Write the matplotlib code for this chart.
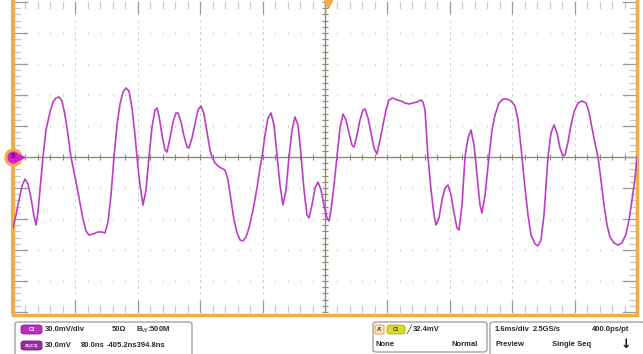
import matplotlib.pyplot as plt
from matplotlib.patches import FancyBboxPatch
import numpy as np

plt.rcParams['font.family'] = ['Liberation Sans', 'DejaVu Sans']

# captured trace, C3 (time in ms, amplitude in mV)
t_ms = [-8.000, -7.923, -7.846, -7.769, -7.692, -7.615, -7.538, -7.462, -7.410, -7.359,
        -7.308, -7.231, -7.154, -7.051, -6.974, -6.897, -6.821, -6.744, -6.667, -6.590,
        -6.513, -6.436, -6.359, -6.282, -6.205, -6.128, -6.051, -5.949, -5.821, -5.718,
        -5.641, -5.564, -5.487, -5.410, -5.333, -5.256, -5.179, -5.103, -5.026, -4.949,
        -4.872, -4.821, -4.744, -4.667, -4.590, -4.513, -4.436, -4.359, -4.308, -4.256,
        -4.179, -4.103, -4.051, -3.974, -3.897, -3.821, -3.769, -3.692, -3.615, -3.538,
        -3.487, -3.410, -3.333, -3.256, -3.179, -3.103, -3.026, -2.949, -2.897, -2.821,
        -2.744, -2.667, -2.564, -2.487, -2.410, -2.333, -2.256, -2.179, -2.103, -2.026,
        -1.949, -1.846, -1.744, -1.667, -1.615, -1.538, -1.462, -1.385, -1.308, -1.231,
        -1.154, -1.077, -1.000, -0.923, -0.846, -0.769, -0.692, -0.615, -0.538, -0.462,
        -0.410, -0.333, -0.256, -0.179, -0.103, -0.026, 0.051, 0.103, 0.154, 0.231,
        0.308, 0.385, 0.462, 0.538, 0.615, 0.692, 0.744, 0.821, 0.897, 0.974,
        1.026, 1.103, 1.179, 1.256, 1.333, 1.410, 1.487, 1.564, 1.641, 1.744,
        1.846, 1.949, 2.051, 2.154, 2.256, 2.359, 2.462, 2.513, 2.564, 2.590,
        2.641, 2.718, 2.795, 2.846, 2.923, 3.000, 3.077, 3.154, 3.231, 3.308,
        3.385, 3.436, 3.513, 3.590, 3.667, 3.744, 3.821, 3.897, 3.974, 4.026,
        4.103, 4.205, 4.282, 4.359, 4.462, 4.564, 4.667, 4.769, 4.872, 4.949,
        5.000, 5.051, 5.128, 5.205, 5.282, 5.385, 5.462, 5.538, 5.615, 5.667,
        5.718, 5.795, 5.872, 5.949, 6.026, 6.103, 6.154, 6.231, 6.308, 6.385,
        6.487, 6.590, 6.692, 6.769, 6.846, 6.923, 7.000, 7.077, 7.154, 7.231,
        7.308, 7.410, 7.513, 7.615, 7.718, 7.795, 7.872, 7.949, 8.000]
v_mv = [-68.7, -56.1, -41.6, -28.1, -21.3, -26.1, -39.7, -57.1, -65.8, -53.2,
        -31.9, 0.0, 26.1, 43.5, 53.2, 57.1, 58.1, 54.2, 40.6, 21.3,
        0.0, -14.5, -29.0, -44.5, -60.0, -71.6, -75.5, -74.5, -72.6, -72.6,
        -73.5, -62.9, -36.8, 0.0, 31.0, 51.3, 62.9, 66.8, 63.9, 47.4,
        21.3, 0.0, -27.1, -46.5, -31.9, 0.0, 29.0, 45.5, 47.4, 39.7,
        21.3, 6.8, 4.8, 18.4, 33.9, 42.6, 42.6, 33.9, 20.3, 9.7,
        8.7, 18.4, 31.9, 45.5, 49.4, 41.6, 24.2, 6.8, 0.0, -5.8,
        -8.7, -10.6, -12.6, -22.3, -41.6, -61.0, -73.5, -80.3, -81.3, -77.4,
        -68.7, -51.3, -30.0, -10.6, 0.0, 21.3, 37.7, 42.6, 31.0, 1.9,
        -27.1, -46.5, -31.9, 0.0, 26.1, 38.7, 31.0, 1.9, -31.9, -56.1,
        -59.0, -46.5, -30.0, -24.2, -31.9, -46.5, -59.0, -61.9, -51.3, -27.1,
        0.0, 28.1, 41.6, 35.8, 23.2, 11.6, 9.7, 21.3, 35.8, 45.5,
        46.5, 37.7, 23.2, 8.7, 2.9, 16.5, 31.0, 45.5, 55.2, 57.1,
        55.2, 54.2, 52.3, 51.3, 52.3, 53.2, 55.2, 53.2, 45.5, 31.0,
        0.0, -31.9, -56.1, -65.8, -59.0, -41.6, -30.0, -27.1, -36.8, -54.2,
        -68.7, -70.6, -46.5, 0.0, 18.4, 26.1, 11.6, -17.4, -46.5, -54.2,
        -36.8, 0.0, 26.1, 40.6, 52.3, 56.1, 56.1, 54.2, 49.4, 35.8,
        18.4, 0.0, -30.0, -56.1, -75.5, -84.2, -86.1, -80.3, -56.1, -27.1,
        0.0, 23.2, 31.0, 23.2, 8.7, 1.0, 1.9, 14.5, 31.0, 43.5,
        52.3, 54.2, 52.3, 43.5, 28.1, 13.5, 0.0, -22.3, -46.5, -65.8,
        -77.4, -83.2, -85.2, -83.2, -74.5, -61.0, -41.6, -20.3, 0.0]

ms_per_div = 1.6
mv_per_div = 30.0
trig_ms = 0.08

W, H = 643, 354
fig = plt.figure(figsize=(W / 100, H / 100), dpi=100)
fig.patch.set_facecolor('white')

# screen area in pixels: x 13..637, y 2..312
ax = fig.add_axes([13 / W, (H - 312) / H, 624 / W, 310 / H])
ax.set_xlim(-5 * ms_per_div, 5 * ms_per_div)
ax.set_ylim(-5 * mv_per_div, 5 * mv_per_div)
ax.axis('off')

orange = '#f2ac48'
grid_c = '#c9c9c9'
axis_c = '#8f8a72'

xmaj = np.arange(-5, 6) * ms_per_div
ymaj = np.arange(-5, 6) * mv_per_div
xmin = np.arange(-25, 26) * ms_per_div / 5
ymin = np.arange(-25, 26) * mv_per_div / 5

# dotted graticule
for x in xmaj[1:-1]:
    if x == 0:
        continue
    ax.plot(np.full_like(ymin, x), ymin, ls='none', marker='|', ms=1.4,
            mew=0.7, color=grid_c)
for y in ymaj[1:-1]:
    if y == 0:
        continue
    ax.plot(xmin, np.full_like(xmin, y), ls='none', marker='|', ms=1.6,
            mew=0.7, color=grid_c)

# centre cross with minor ticks
ax.axhline(0, color=axis_c, lw=1.0)
ax.axvline(0, color=axis_c, lw=1.0)
ax.plot(xmin, np.zeros_like(xmin), ls='none', marker='|', ms=4.5, mew=0.8,
        color=axis_c)
ax.plot(np.zeros_like(ymin), ymin, ls='none', marker='_', ms=4.5, mew=0.8,
        color=axis_c)

# ticks along the screen edges
ytop = 5 * mv_per_div
xl, xr = -5 * ms_per_div, 5 * ms_per_div
for x in xmin:
    major = abs(x / ms_per_div - round(x / ms_per_div)) < 1e-6
    ln = 0.35 if major else 0.2
    c = '#9a9a9a' if major else grid_c
    ax.plot([x, x], [ytop, ytop - ln * mv_per_div], color=c, lw=0.9, clip_on=False)
    ax.plot([x, x], [-ytop, -ytop + ln * mv_per_div], color=c, lw=0.9, clip_on=False)
for y in ymin:
    major = abs(y / mv_per_div - round(y / mv_per_div)) < 1e-6
    ln = 0.22 if major else 0.12
    c = '#9a9a9a' if major else grid_c
    ax.plot([xl, xl + ln * ms_per_div], [y, y], color=c, lw=0.9, clip_on=False)
    ax.plot([xr, xr - ln * ms_per_div], [y, y], color=c, lw=0.9, clip_on=False)

# orange screen frame (left, right, bottom)
ax.plot([xl, xl], [-ytop - 2, ytop + 6], color=orange, lw=3, clip_on=False,
        solid_capstyle='butt')
ax.plot([xr, xr], [-ytop - 2, ytop + 6], color=orange, lw=2.5, clip_on=False,
        solid_capstyle='butt')
ax.plot([xl, xr], [-ytop - 3, -ytop - 3], color=orange, lw=2.5, clip_on=False)

# waveform
ax.plot(t_ms, v_mv, color='#bd3ec4', lw=1.2, solid_joinstyle='round', zorder=5)

# channel ground marker and trigger position
ax.plot([xl], [0], marker='o', ms=11, mfc='#d21fd2', mec=orange, mew=2.2,
        clip_on=False, zorder=6)
ax.text(xl, 0, '3', ha='center', va='center', fontsize=5.5, color='#3a003a',
        fontweight='bold', zorder=7, clip_on=False)
ax.plot([xl + 0.2], [0], marker='>', ms=4, color='#d21fd2', clip_on=False, zorder=6)
ax.plot([trig_ms], [ytop - 1.5], marker='v', ms=6, color=orange, clip_on=False, zorder=6)


# ---- status panel below the screen ----
def fx(x):
    return x / W


def fy(y):
    return 1 - y / H


def box(x0, y0, x1, y1, fc='white', ec='#9a9a9a', r=4, lw=0.9):
    p = FancyBboxPatch((fx(x0), fy(y1)), fx(x1) - fx(x0), fy(y0) - fy(y1),
                       boxstyle='round,pad=0,rounding_size=%f' % (r / W),
                       transform=fig.transFigure, fc=fc, ec=ec, lw=lw)
    fig.add_artist(p)


def txt(x, y, s, **kw):
    kw.setdefault('fontsize', 5.5)
    kw.setdefault('color', '#2a2a2a')
    kw.setdefault('fontweight', 'bold')
    fig.text(fx(x), fy(y), s, va='center', **kw)


box(15, 322, 192, 360)
box(373, 322, 487, 352)
box(490, 322, 645, 360)

# channel block
box(21, 325, 42, 334, fc='#b72fbf', ec='#8a1d90', r=4, lw=0.6)
fig.text(fx(31.5), fy(329.5), 'C3', ha='center', va='center', fontsize=3.6,
         color='white', fontweight='bold')
box(21, 341, 42, 350, fc='#9c28a4', ec='#6e1a74', r=4, lw=0.6)
fig.text(fx(31.5), fy(345.5), 'Z1(C3)', ha='center', va='center', fontsize=3.2,
         color='white', fontweight='bold')
txt(45, 329.5, '30.0mV/div')
txt(112, 329.5, '50\u03a9')
txt(136, 329.5, 'B$_W$:500M')
txt(45, 345.5, '30.0mV')
txt(81, 345.5, '80.0ns')
txt(107, 345.5, '-405.2ns394.8ns')

# trigger block
box(375, 325, 384, 334, fc='#fbe2c4', ec=orange, r=1, lw=0.8)
fig.text(fx(379.5), fy(329.5), "A'", ha='center', va='center', fontsize=4,
         color='#303030', fontweight='bold')
box(387, 325, 405, 334, fc='#d9dc2a', ec='#a8a818', r=4, lw=0.6)
fig.text(fx(396), fy(329.5), 'C1', ha='center', va='center', fontsize=3.6,
         color='#303030', fontweight='bold')
txt(406, 329.5, '\u2571', fontsize=6, family='DejaVu Sans')
txt(413, 329.5, '32.4mV')
txt(375, 344, 'None')
txt(452, 344, 'Normal')

# timebase block
txt(495, 329.5, '1.6ms/div')
txt(533, 329.5, '2.5GS/s')
txt(592, 329.5, '400.0ps/pt')
txt(495, 344, 'Preview')
txt(552, 344, 'Single Seq')
txt(621, 345, '\u2193', fontsize=9, color='#111111', family='DejaVu Sans')

fig.savefig('out.png', dpi=100, facecolor='white')
